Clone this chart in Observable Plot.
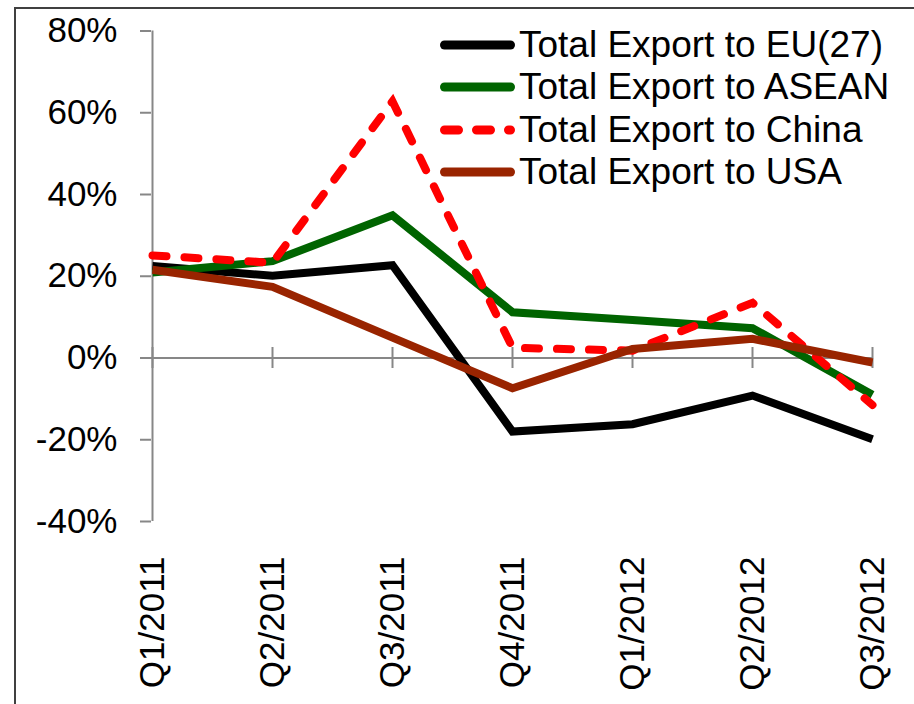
<!DOCTYPE html>
<html>
<head>
<meta charset="utf-8">
<script src="https://cdn.jsdelivr.net/npm/d3@7"></script>
<script src="https://cdn.jsdelivr.net/npm/@observablehq/plot@0.6"></script>
<style>
  html, body { margin: 0; padding: 0; background: #fff; }
  body { width: 914px; height: 704px; overflow: hidden; position: relative; font-family: "Liberation Sans", Arial, sans-serif; }
  #frame { position: absolute; left: 14px; top: 7px; width: 1000px; height: 1000px; border: 2px solid #404040; pointer-events: none; }
  #chart { position: absolute; left: 0; top: 0; }
  .lg-row { position: absolute; left: 440px; height: 42px; display: flex; align-items: center; }
  .lg-row svg { display: block; }
  .lg-row span { font-size: 37px; line-height: 42px; color: #000; white-space: nowrap; margin-left: 0px; }
</style>
</head>
<body>
<div id="chart"></div>
<div id="legend"></div>
<div id="frame"></div>
<script>
// ---- data ----
const quarters = ["Q1/2011", "Q2/2011", "Q3/2011", "Q4/2011", "Q1/2012", "Q2/2012", "Q3/2012"];
const seriesNames = ["Total Export to EU(27)", "Total Export to ASEAN", "Total Export to China", "Total Export to USA"];
const euValues    = [22.5, 20.1, 22.7, -18.0, -16.2, -9.2, -19.9];
const aseanValues = [20.9, 23.7, 34.9, 11.2, 9.3, 7.3, -9.0];
const chinaValues = [25.1, 23.3, 62.8, 2.5, 1.8, 13.5, -11.5];
const usaValues   = [21.6, 17.4, 5.0, -7.4, 2.2, 4.7, -1.1];
const yTicks = [-40, -20, 0, 20, 40, 60, 80];

const seriesColors = ["#000000", "#006400", "#ff0000", "#992400"];
const seriesDash = [null, null, "14,18", null];
const seriesValues = [euValues, aseanValues, chinaValues, usaValues];

const rows = [];
seriesNames.forEach((name, s) => {
  quarters.forEach((q, i) => rows.push({series: name, quarter: q, value: seriesValues[s][i]}));
});

const axisGray = "#878787";

const lineMarks = seriesNames.map((name, s) =>
  Plot.line(rows.filter(d => d.series === name), {
    x: "quarter", y: "value",
    stroke: seriesColors[s],
    strokeWidth: 8,
    strokeDasharray: seriesDash[s] || undefined,
    strokeLinecap: seriesDash[s] ? "round" : "butt",
    strokeLinejoin: "miter",
    strokeMiterlimit: 4
  })
);

const chart = Plot.plot({
  width: 914,
  height: 704,
  marginLeft: 151,
  marginRight: 41,
  marginTop: 30.5,
  marginBottom: 183,
  style: {fontFamily: "'Liberation Sans', Arial, sans-serif", fontSize: "35px", color: "#000", background: "transparent", overflow: "visible"},
  x: {type: "point", domain: quarters, padding: 0, label: null},
  y: {domain: [-40, 80], label: null},
  marks: [
    Plot.ruleY([0], {stroke: axisGray, strokeWidth: 2}),
    Plot.ruleX([quarters[0]], {stroke: axisGray, strokeWidth: 2}),
    Plot.ruleX(quarters, {x: d => d, y1: -2.57, y2: 2.57, stroke: axisGray, strokeWidth: 2}),
    Plot.axisY({ticks: yTicks, tickSize: 11, tickPadding: 23, tickFormat: d => d + "%", stroke: axisGray, strokeWidth: 2, fill: "#000", label: null}),
    Plot.axisX({anchor: "bottom", tickSize: 0, tickPadding: 35, tickRotate: -90, fill: "#000", label: null}),
    ...lineMarks
  ]
});
document.getElementById("chart").appendChild(chart);

// legend (inside plot area, top right)
const legend = document.getElementById("legend");
seriesNames.forEach((name, s) => {
  const cy = 45 + 42.3 * s;
  const row = document.createElement("div");
  row.className = "lg-row";
  row.style.top = (cy - 21) + "px";
  const dash = seriesDash[s] ? `stroke-dasharray="14,18"` : "";
  row.innerHTML = `<svg width="79" height="42"><line x1="4.5" x2="70.5" y1="21" y2="21" stroke="${seriesColors[s]}" stroke-width="9" stroke-linecap="round" ${dash}/></svg><span>${name}</span>`;
  legend.appendChild(row);
});
</script>
</body>
</html>
